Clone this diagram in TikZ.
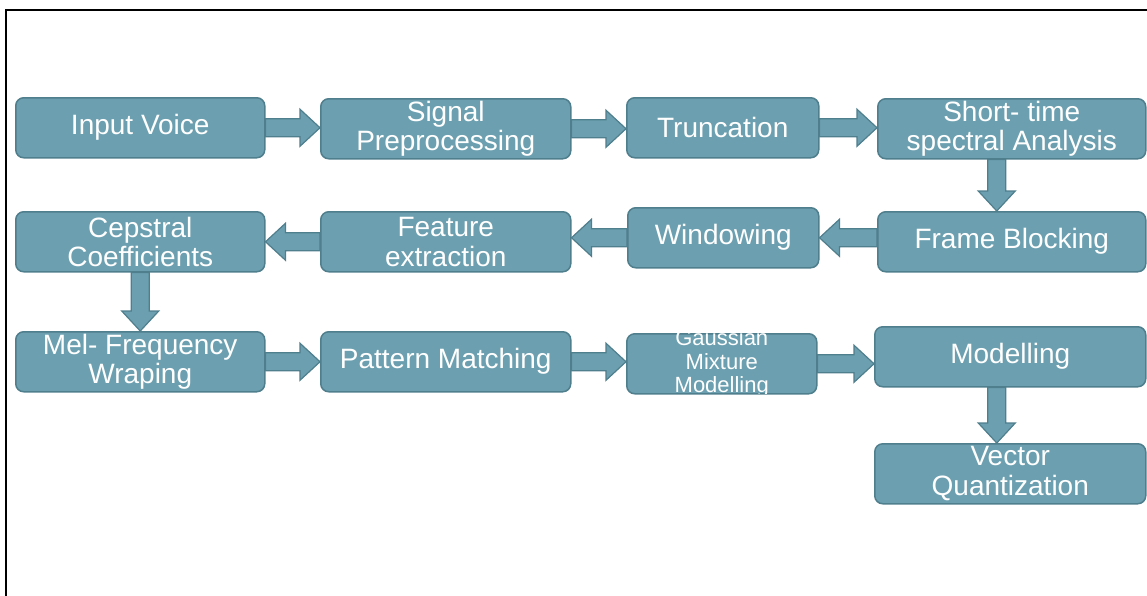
\documentclass[tikz,border=0pt]{standalone}
\usepackage{fontspec}
\setmainfont{Liberation Sans}
\usetikzlibrary{calc}
\definecolor{boxfill}{RGB}{108,160,176}
\definecolor{boxline}{RGB}{79,126,141}
\tikzset{
  stepbox/.style={draw=boxline, fill=boxfill, line width=1.5pt, rounded corners=8pt,
    anchor=north west, inner sep=0pt, align=center, text=white,
    font=\fontsize{28}{29.5}\selectfont},
  gmtext/.style={inner sep=0pt, align=center, text=white, font=\fontsize{22}{23.5}\selectfont},
  barrow/.style={draw=boxline, fill=boxfill, line width=1.2pt, line join=miter},
  frameline/.style={draw=black, line width=2pt},
}
\newcommand\hblockarrow[2]{\draw[barrow] let \p1=(#1), \p2=(#2), \n1={sign(\x2-\x1)} in
  (\x1,\y1+9pt) -- ({\x2-(\n1)*20pt},\y1+9pt) -- ({\x2-(\n1)*20pt},\y1+18.5pt) -- (\x2,\y1)
  -- ({\x2-(\n1)*20pt},\y1-18.5pt) -- ({\x2-(\n1)*20pt},\y1-9pt) -- (\x1,\y1-9pt) -- cycle;}
\newcommand\vblockarrow[2]{\draw[barrow] let \p1=(#1), \p2=(#2) in
  (\x1-9pt,\y1) -- (\x1-9pt,\y2+20pt) -- (\x1-18.5pt,\y2+20pt) -- (\x1,\y2)
  -- (\x1+18.5pt,\y2+20pt) -- (\x1+9pt,\y2+20pt) -- (\x1+9pt,\y1) -- cycle;}
\begin{document}
\begin{tikzpicture}[x=1pt, y=-1pt]
\useasboundingbox (0,0) rectangle (1147,595);
\draw[frameline] (5.5,600) -- (5.5,10) -- (1152,10);

% row 1
\node[stepbox, minimum width=249pt, minimum height=60pt] (iv) at (15,97) {Input Voice};
\node[stepbox, minimum width=250pt, minimum height=60pt] (sp) at (320,98) {Signal\\Preprocessing};
\node[stepbox, minimum width=192pt, minimum height=60pt] (tr) at (626,97) {Truncation};
\node[stepbox, minimum width=268pt, minimum height=60pt] (st) at (877,98) {Short- time\\spectral Analysis};
% row 2
\node[stepbox, minimum width=268pt, minimum height=60pt] (fb) at (877,211) {Frame Blocking};
\node[stepbox, minimum width=191pt, minimum height=60pt] (wi) at (627,207) {Windowing};
\node[stepbox, minimum width=250pt, minimum height=60pt] (fe) at (320,211) {Feature\\extraction};
\node[stepbox, minimum width=249pt, minimum height=60pt] (cc) at (15,211) {Cepstral\\Coefficients};
% row 3
\node[stepbox, minimum width=249pt, minimum height=60pt] (mf) at (15,331) {Mel- Frequency\\Wraping};
\node[stepbox, minimum width=250pt, minimum height=60pt] (pm) at (320,331) {Pattern Matching};
\node[stepbox, minimum width=190pt, minimum height=60pt] (gm) at (626,333) {};
\begin{scope}
  \clip[rounded corners=8pt] (626,333) rectangle (816,393);
  \node[gmtext] (gmt) at (gm.center) {Gaussian\\Mixture\\Modelling};
\end{scope}
\node[stepbox, minimum width=271pt, minimum height=60pt] (mo) at (874,326) {Modelling};
\node[stepbox, minimum width=271pt, minimum height=60pt] (vq) at (874,443) {Vector\\Quantization};

% arrows
\hblockarrow{iv.east}{sp.west}
\hblockarrow{sp.east}{tr.west}
\hblockarrow{tr.east}{st.west}
\vblockarrow{$(st.south)+(-15,0)$}{fb.north}
\hblockarrow{fb.west |- wi.west}{wi.east}
\hblockarrow{wi.west}{fe.east}
\hblockarrow{fe.west}{cc.east}
\vblockarrow{cc.south}{mf.north}
\hblockarrow{mf.east}{pm.west}
\hblockarrow{pm.east}{gm.west}
\hblockarrow{gm.east}{mo.west}
\vblockarrow{$(mo.south)+(-13.5,0)$}{vq.north}
\end{tikzpicture}
\end{document}
